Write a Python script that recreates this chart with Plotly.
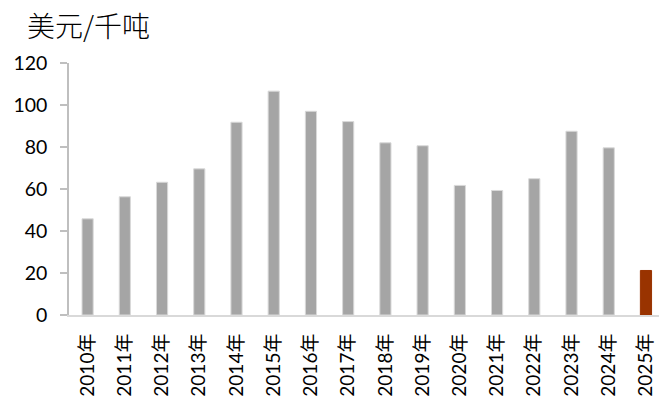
import plotly.graph_objects as go

years = ["2010年", "2011年", "2012年", "2013年", "2014年", "2015年", "2016年", "2017年",
         "2018年", "2019年", "2020年", "2021年", "2022年", "2023年", "2024年", "2025年"]
values = [45.8, 56.3, 63.2, 69.6, 91.8, 106.6, 97.0, 92.1,
          82.0, 80.6, 61.7, 59.3, 64.9, 87.5, 79.6, 21.2]
y_ticks = [0, 20, 40, 60, 80, 100, 120]
unit_label = "美元/千吨"

colors = ["#A5A5A5"] * (len(years) - 1) + ["#993300"]
line_colors = ["#D9D9D9"] * (len(years) - 1) + ["#993300"]

font_family = "Lato, Noto Sans CJK SC, sans-serif"

fig = go.Figure(go.Bar(
    x=years, y=values,
    marker=dict(color=colors, line=dict(color=line_colors, width=1)),
    width=0.3,
))

fig.update_layout(
    width=659, height=403,
    margin=dict(l=69, r=0, t=63, b=88),
    plot_bgcolor="white", paper_bgcolor="white",
    showlegend=False,
    font=dict(family=font_family, size=19.5, color="#000000"),
    title=dict(text=unit_label, x=27 / 659, xanchor="left", xref="container",
               y=1 - 27 / 403, yanchor="middle", yref="container",
               font=dict(family="Noto Sans CJK SC, sans-serif", size=28,
                         color="#000000", weight=300)),
    xaxis=dict(
        type="category", range=[-0.5, 15.35], automargin=False,
        showline=True, linecolor="#D9D9D9", linewidth=2,
        ticks="", tickangle=-90, showgrid=False,
        tickfont=dict(size=19), ticklabelstandoff=9,
    ),
    yaxis=dict(
        range=[0, 120], tickvals=y_ticks, automargin=False,
        showline=True, linecolor="#BFBFBF", linewidth=1.5,
        ticks="outside", ticklen=7, tickcolor="#BFBFBF", tickwidth=1.5,
        showgrid=False, zeroline=False,
        tickfont=dict(size=19.5), ticklabelstandoff=9,
    ),
)

fig.write_html("out.html")
